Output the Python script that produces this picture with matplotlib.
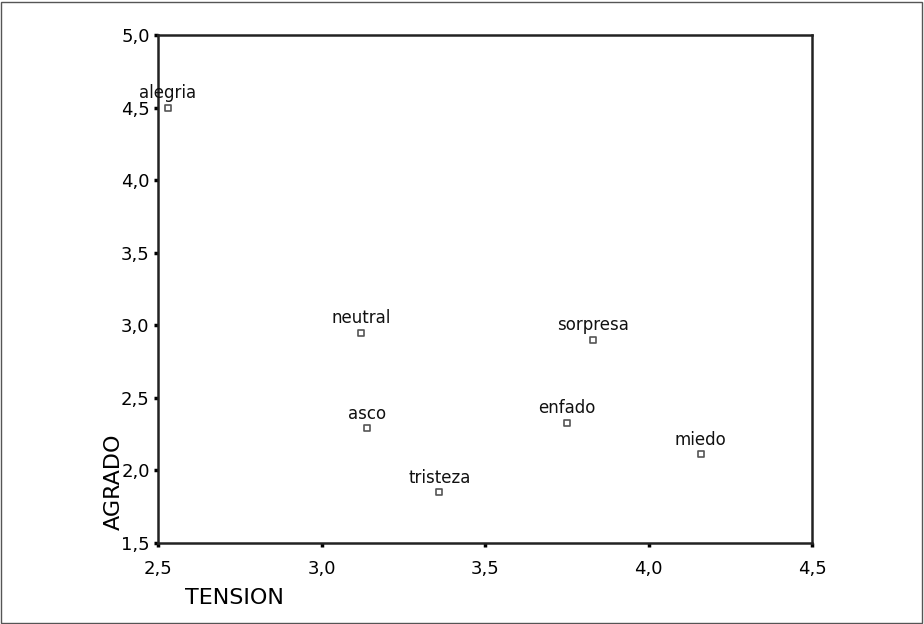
import matplotlib
matplotlib.use("Agg")
import matplotlib.pyplot as plt
from matplotlib.patches import Rectangle

labels = ["alegria", "neutral", "sorpresa", "asco", "enfado", "tristeza", "miedo"]
tension = [2.53, 3.12, 3.83, 3.14, 3.75, 3.36, 4.16]
agrado = [4.50, 2.95, 2.90, 2.29, 2.33, 1.85, 2.11]

xticks = [2.5, 3.0, 3.5, 4.0, 4.5]
yticks = [1.5, 2.0, 2.5, 3.0, 3.5, 4.0, 4.5, 5.0]

W, H = 924, 624
fig = plt.figure(figsize=(W / 100, H / 100), dpi=100)
ax = fig.add_axes([158 / W, 1 - 543 / H, (812 - 158) / W, (543 - 35) / H])

ax.scatter(tension, agrado, marker="s", s=22, facecolors="white",
           edgecolors="#555555", linewidths=1.2, zorder=3, clip_on=False)
for lab, x, y in zip(labels, tension, agrado):
    ax.annotate(lab, (x, y), xytext=(0, 4), textcoords="offset points",
                ha="center", va="bottom", fontsize=12, color="#111111")

ax.set_xlim(2.5, 4.5)
ax.set_ylim(1.5, 5.0)
ax.set_xticks(xticks)
ax.set_yticks(yticks)
ax.set_xticklabels([f"{v:.1f}".replace(".", ",") for v in xticks], fontsize=13)
ax.set_yticklabels([f"{v:.1f}".replace(".", ",") for v in yticks], fontsize=13)
ax.tick_params(direction="out", length=3, width=2.5, color="black")
ax.tick_params(axis="x", pad=9)
ax.tick_params(axis="y", pad=3)
for s in ax.spines.values():
    s.set_linewidth(1.8)
    s.set_color("#222222")

fig.text(234 / W, 1 - 598 / H, "TENSION", fontsize=16, ha="center", va="center")
fig.text(114 / W, 1 - 482 / H, "AGRADO", fontsize=16, ha="center", va="center",
         rotation=90)

fig.patches.append(Rectangle((1 / W, 1 / H), 1 - 3 / W, 1 - 3 / H,
                             transform=fig.transFigure, fill=False,
                             edgecolor="#555555", linewidth=1))

fig.savefig("out.png", dpi=100)
